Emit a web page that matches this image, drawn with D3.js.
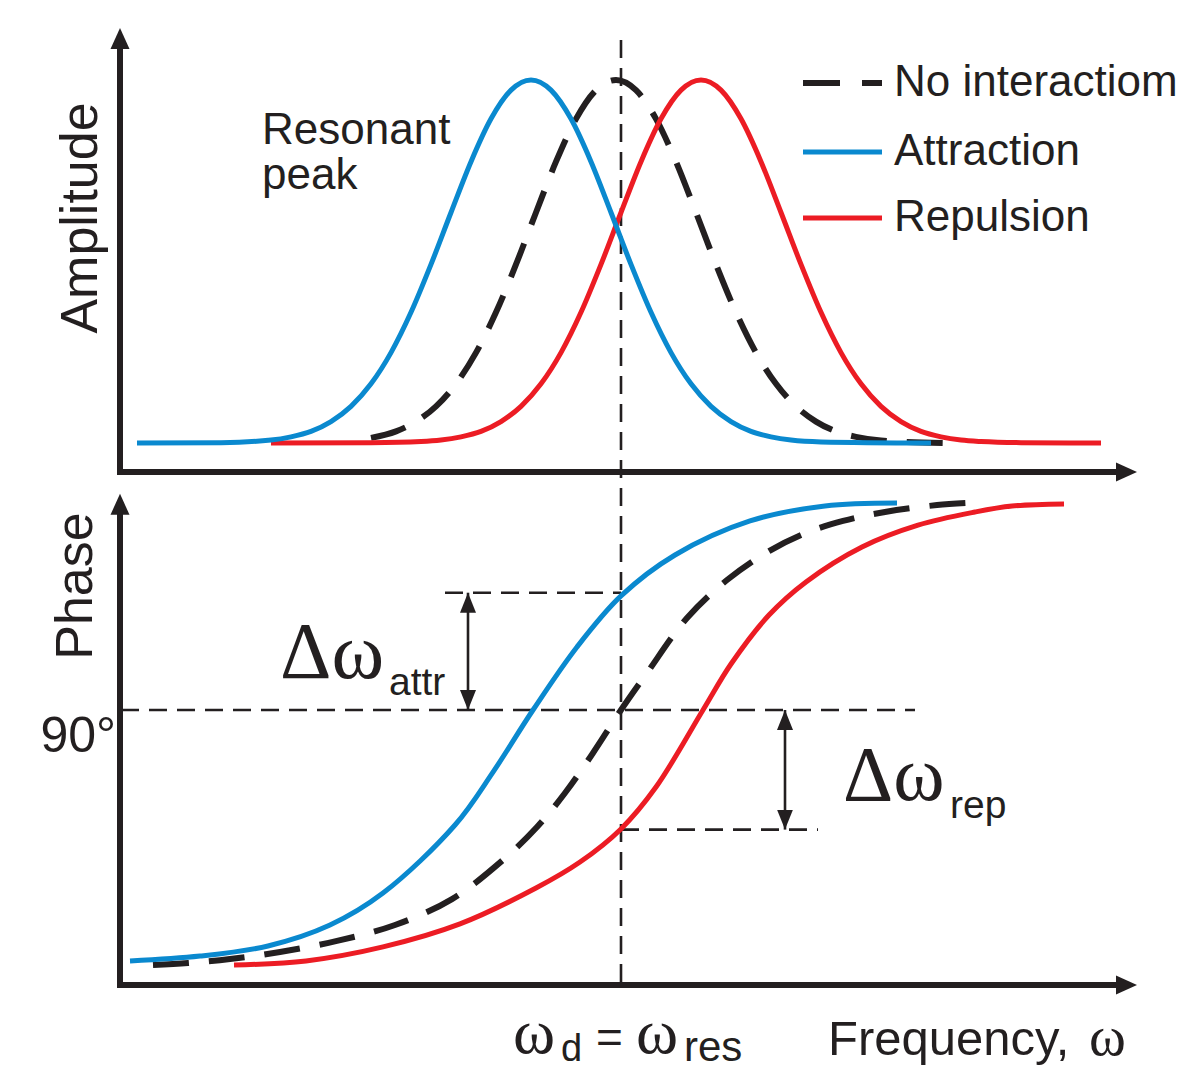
<!DOCTYPE html>
<html><head><meta charset="utf-8">
<script src="https://cdn.jsdelivr.net/npm/d3@7"></script>
<style>body{margin:0;background:#fff}svg{display:block}</style>
</head><body>
<svg id="chart" width="1185" height="1070"></svg>
<script>
// ---------- DATA (frequency in relative units, ω_res = 50) ----------
const seriesNames = ["No interactiom", "Attraction", "Repulsion"];
const resFreq = 50;

// Amplitude (normalised 0..1)
const ampNoneFreq = [25,27.5,29.5,31.5,33.5,35.5,37.5,39.5,41.5,43.5,45.5,47.5,49.5,51.5,53.5,55.5,57.5,59.5,61.5,63.5,65.5,67.5,69.5,71.5,73.5,76,82.5];
const ampNone     = [0.014,0.032,0.059,0.101,0.163,0.249,0.360,0.492,0.635,0.775,0.893,0.972,1,0.972,0.893,0.775,0.635,0.492,0.360,0.249,0.163,0.101,0.059,0.032,0.017,0.007,0];
const ampAttrFreq = [1.6,10,15,17,19,21,23,25,27,29,31,33,35,37,39,41,43,45,47,49,51,53,55,57,59,61,63,65,67,70,81];
const ampAttr     = [0,0.001,0.008,0.017,0.032,0.059,0.101,0.163,0.249,0.360,0.492,0.635,0.775,0.893,0.972,1,0.972,0.893,0.775,0.635,0.492,0.360,0.249,0.163,0.101,0.059,0.032,0.017,0.008,0.003,0];
const ampRepFreq  = [15,25,30,32,34,36,38,40,42,44,46,48,50,52,54,56,58,60,62,64,66,68,70,72,74,76,78,80,82,84,86,90,98];
const ampRep      = [0,0.001,0.004,0.008,0.017,0.032,0.059,0.101,0.163,0.249,0.360,0.492,0.635,0.775,0.893,0.972,1,0.972,0.893,0.775,0.635,0.492,0.360,0.249,0.163,0.101,0.059,0.032,0.017,0.008,0.004,0.001,0];

// Phase (degrees)
const phaseNoneFreq = [3.2,6.7,10.9,15.9,21.6,27.4,33.1,38.2,41.6,44.4,47.2,50,52.6,56.6,60.6,64.8,68.5,72.2,76.4,81.6,84.6];
const phaseNone     = [-20.9,-20,-18.3,-15.2,-10.4,-3.5,7.8,24.8,39.1,53.9,71.3,90,106.1,130,146.5,159.1,167,172.2,176.1,179.1,180];
const phaseAttrFreq = [0.9,7.9,14.7,20.9,26.2,33.4,37.2,41.2,45.6,50,55.4,62.9,70.4,77.6];
const phaseAttr     = [-19.1,-17,-12.6,-3.5,10.4,40,63,90,117.4,139.6,157.4,172.2,178.7,180];
const phaseRepFreq  = [11.3,18.5,26.2,33.9,41.5,45.9,50,53.5,58.2,61,64.8,68.5,74.1,79.7,85.4,89.1,94.3];
const phaseRep      = [-20.9,-19.1,-13,-3,12.6,23.9,38.3,56.5,90,110,131.3,145.7,160.9,170.4,176.1,178.7,179.6];

// Reference levels / annotations
const phaseTicks = [90];
const attrLevel = 141, repLevel = 38;
const attrArrowFreq = 34.7, repArrowFreq = 66.4;
const attrLineFreq = [32.4, 50], repLineFreq = [50, 69.7], refLineFreq = [0, 79.4];

// ---------- STYLE ----------
const INK = "#231f20", BLUE = "#0a89cf", RED = "#ec1c24";
const SANS = "'Liberation Sans', Arial, Helvetica, sans-serif";
const SERIF = "'Liberation Serif', 'Times New Roman', serif";

const svg = d3.select("#chart");
const x = d3.scaleLinear().domain([0, 100]).range([121, 1121]);
const yAmp = d3.scaleLinear().domain([0, 1]).range([443, 80]);
const yPh = d3.scaleLinear().domain([-20, 180]).range([963, 503]);

const zip = (a, b) => a.map((v, i) => [v, b[i]]);
const lineAmp = d3.line().x(d => x(d[0])).y(d => yAmp(d[1])).curve(d3.curveMonotoneX);
const linePh = d3.line().x(d => x(d[0])).y(d => yPh(d[1])).curve(d3.curveCatmullRom.alpha(0.5));

// markers for double arrows
const defs = svg.append("defs");
defs.append("marker").attr("id", "dblHead").attr("viewBox", "0 -8 20 16")
  .attr("refX", 20).attr("refY", 0).attr("markerWidth", 20).attr("markerHeight", 16)
  .attr("markerUnits", "userSpaceOnUse").attr("orient", "auto-start-reverse")
  .append("path").attr("d", "M0,-8L20,0L0,8Z").attr("fill", INK);

// ---------- dashed reference lines ----------
const thinDash = { w: 2.6, dash: "18,10" };
svg.append("line").attr("x1", x(resFreq)).attr("x2", x(resFreq))
  .attr("y1", yAmp(1.11)).attr("y2", yPh(-29.6))
  .attr("stroke", INK).attr("stroke-width", thinDash.w).attr("stroke-dasharray", thinDash.dash);
[[refLineFreq, 90], [attrLineFreq, attrLevel], [repLineFreq, repLevel]].forEach(([f, v]) => {
  svg.append("line").attr("x1", x(f[0])).attr("x2", x(f[1]))
    .attr("y1", yPh(v)).attr("y2", yPh(v))
    .attr("stroke", INK).attr("stroke-width", thinDash.w).attr("stroke-dasharray", thinDash.dash);
});

// ---------- curves ----------
const curveW = 5;
svg.append("path").attr("d", lineAmp(zip(ampNoneFreq, ampNone))).attr("fill", "none")
  .attr("stroke", INK).attr("stroke-width", 6).attr("stroke-dasharray", "36,20");
svg.append("path").attr("d", lineAmp(zip(ampRepFreq, ampRep))).attr("fill", "none")
  .attr("stroke", RED).attr("stroke-width", curveW);
svg.append("path").attr("d", lineAmp(zip(ampAttrFreq, ampAttr))).attr("fill", "none")
  .attr("stroke", BLUE).attr("stroke-width", curveW);

svg.append("path").attr("d", linePh(zip(phaseNoneFreq, phaseNone))).attr("fill", "none")
  .attr("stroke", INK).attr("stroke-width", 6).attr("stroke-dasharray", "36,20");
svg.append("path").attr("d", linePh(zip(phaseRepFreq, phaseRep))).attr("fill", "none")
  .attr("stroke", RED).attr("stroke-width", curveW);
svg.append("path").attr("d", linePh(zip(phaseAttrFreq, phaseAttr))).attr("fill", "none")
  .attr("stroke", BLUE).attr("stroke-width", curveW);

// ---------- axes with arrowheads ----------
const axW = 6, headL = 21, headH = 9.5;
function hAxis(y, f0, f1) {
  const x0 = x(f0), x1 = x(f1);
  svg.append("line").attr("x1", x0 - axW / 2).attr("x2", x1 - headL + 2).attr("y1", y).attr("y2", y)
    .attr("stroke", INK).attr("stroke-width", axW);
  svg.append("path").attr("d", `M${x1},${y}L${x1 - headL},${y - headH}L${x1 - headL},${y + headH}Z`).attr("fill", INK);
}
function vAxis(xp, y0, y1) {
  svg.append("line").attr("x1", xp).attr("x2", xp).attr("y1", y0 + axW / 2).attr("y2", y1 + headL - 2)
    .attr("stroke", INK).attr("stroke-width", axW);
  svg.append("path").attr("d", `M${xp},${y1}L${xp - headH},${y1 + headL}L${xp + headH},${y1 + headL}Z`).attr("fill", INK);
}
const xAxisX = x(-0.1);
hAxis(yAmp(-0.08), -0.1, 101.6);
vAxis(xAxisX, yAmp(-0.08), yAmp(1.143));
hAxis(yPh(-29.6), -0.1, 101.6);
vAxis(xAxisX, yPh(-29.6), yPh(184));

// ---------- double arrows ----------
[[attrArrowFreq, 90, attrLevel], [repArrowFreq, 90, repLevel]].forEach(([f, a, b]) => {
  svg.append("line").attr("x1", x(f)).attr("x2", x(f)).attr("y1", yPh(a)).attr("y2", yPh(b))
    .attr("stroke", INK).attr("stroke-width", 2.6)
    .attr("marker-start", "url(#dblHead)").attr("marker-end", "url(#dblHead)");
});

// ---------- texts ----------
function txt(s, xp, yp, size, fam, opts = {}) {
  const t = svg.append("text").attr("x", xp).attr("y", yp).attr("font-size", size)
    .attr("font-family", fam).attr("fill", INK).text(s);
  if (opts.anchor) t.attr("text-anchor", opts.anchor);
  if (opts.rotate) t.attr("transform", `rotate(-90,${xp},${yp})`);
  return t;
}
txt("Amplitude", 97, 218, 52, SANS, { anchor: "middle", rotate: true });
txt("Phase", 92, 586, 52, SANS, { anchor: "middle", rotate: true });
phaseTicks.forEach(v => txt(v + "°", 116, yPh(v) + 42, 50, SANS, { anchor: "end" }));
txt("Resonant", 262, 144, 44, SANS);
txt("peak", 262, 189, 44, SANS);
const legendY = [83, 152, 218], legendBase = [96, 165, 231];
const legendStroke = [INK, BLUE, RED];
legendY.forEach((ly, i) => {
  const l = svg.append("line").attr("x1", 803).attr("x2", 882).attr("y1", ly).attr("y2", ly)
    .attr("stroke", legendStroke[i]).attr("stroke-width", i === 0 ? 6 : 5);
  if (i === 0) l.attr("stroke-dasharray", "37,22");
  txt(seriesNames[i], 894, legendBase[i], 44, SANS);
});
txt("Δω", 280, 678, 80, SERIF);
txt("attr", 389, 695, 39, SANS);
txt("Δω", 843, 800, 78, SERIF);
txt("rep", 950, 818, 39, SANS);
txt("ω", 513, 1053, 64, SERIF);
txt("d", 561, 1061, 38, SANS);
txt("=", 596, 1053, 46, SANS);
txt("ω", 636, 1053, 64, SERIF);
txt("res", 684, 1061, 42, SANS);
txt("Frequency,", 828, 1055, 49, SANS);
txt("ω", 1089, 1055, 56, SERIF);
</script>
</body></html>
